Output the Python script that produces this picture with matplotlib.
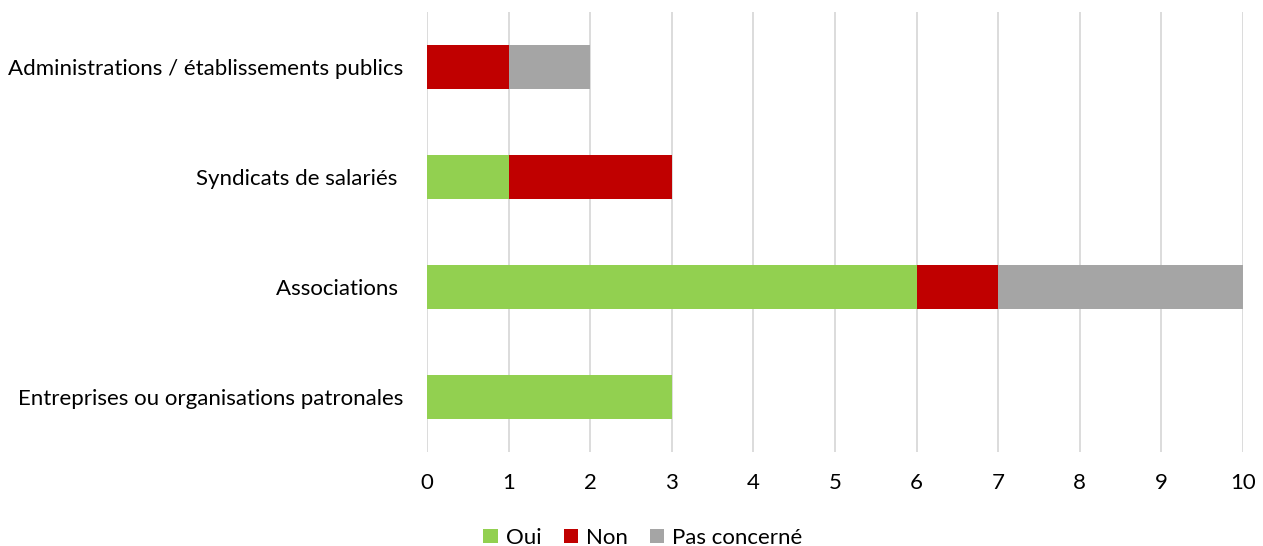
import matplotlib
matplotlib.use("Agg")
import matplotlib.pyplot as plt
import numpy as np

categories = [
    "Entreprises ou organisations patronales",
    "Associations ",
    "Syndicats de salariés ",
    "Administrations / établissements publics",
]
oui = [3, 6, 1, 0]
non = [0, 1, 2, 1]
pas_concerne = [0, 3, 0, 1]
series_names = ["Oui", "Non", "Pas concerné"]
colors = ["#92D050", "#C00000", "#A5A5A5"]
x_ticks = list(range(0, 11))

plt.rcParams["font.family"] = ["Lato", "DejaVu Sans"]

fig = plt.figure(figsize=(12.63, 5.46), dpi=100)
ax = fig.add_axes([427 / 1263, 1 - 452 / 546, (1243 - 427) / 1263, 440 / 546])

y = np.arange(len(categories))
left = np.zeros(len(categories))
for vals, name, col in zip([oui, non, pas_concerne], series_names, colors):
    ax.barh(y, vals, left=left, height=0.4, color=col, label=name, zorder=3)
    left += np.array(vals)

ax.set_xlim(0, 10)
ax.set_ylim(-0.5, 3.5)
ax.set_xticks(x_ticks)
ax.set_yticks(y)
ax.set_yticklabels(categories, fontsize=16)
ax.tick_params(axis="x", labelsize=16, length=0, pad=15)
ax.tick_params(axis="y", length=0, pad=17)
ax.grid(axis="x", color="#D9D9D9", linewidth=1.3, zorder=0)
for s in ax.spines.values():
    s.set_visible(False)

fig.legend(loc="lower center", bbox_to_anchor=(0.509, -0.04), ncol=3, frameon=False,
           fontsize=16, handlelength=0.65, handleheight=0.65, handletextpad=0.35,
           columnspacing=1.0)

fig.savefig("out.png", dpi=100)
